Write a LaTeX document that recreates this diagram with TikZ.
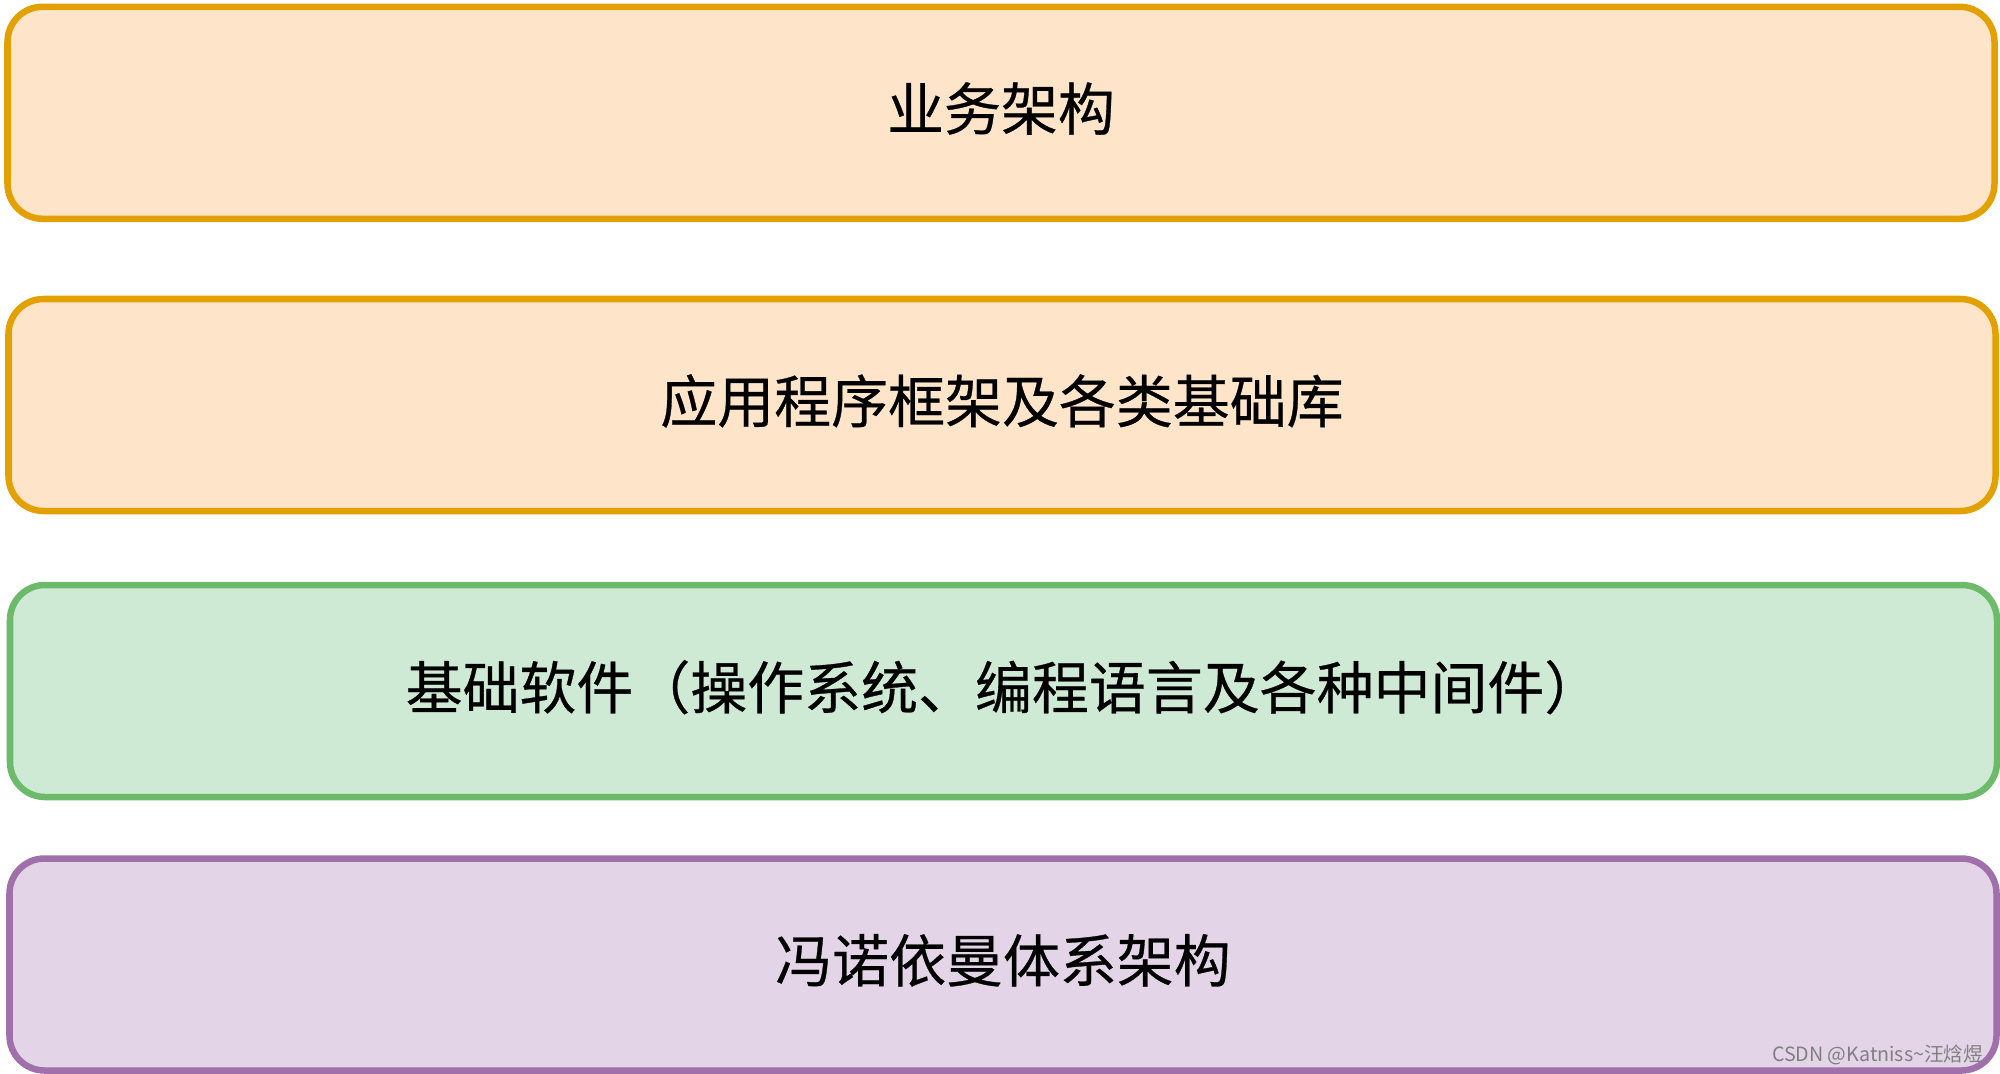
\documentclass[tikz,border=0pt]{standalone}
\usepackage{fontspec}
\newfontfamily\cjk{Noto Sans CJK SC}
\newfontfamily\cjkbold[FakeBold=0.5]{Noto Sans CJK SC}
\definecolor{orangeline}{HTML}{E3A001}
\definecolor{orangefill}{HTML}{FEE5CA}
\definecolor{greenline}{HTML}{6DBA6B}
\definecolor{greenfill}{HTML}{CFEAD4}
\definecolor{purpleline}{HTML}{A070AA}
\definecolor{purplefill}{HTML}{E4D4E8}
\newcommand{\layertext}[1]{\raisebox{0.13cm}{#1}}

\begin{document}
\begin{tikzpicture}[
    layer/.style={rectangle,rounded corners=0.35cm,line width=1.85pt,
      minimum width=19.87cm,minimum height=2.12cm,inner sep=0pt,
      font=\cjkbold\fontsize{16.2pt}{18pt}\selectfont,text=black},
    orangelayer/.style={layer,draw=orangeline,fill=orangefill},
    greenlayer/.style={layer,draw=greenline,fill=greenfill},
    purplelayer/.style={layer,draw=purpleline,fill=purplefill}]
        \useasboundingbox (0,0) rectangle (20,-10.74) ;
        %\draw[very thin,gray,step=1] (0,0) grid (20,-10.74) ;
        \node[orangelayer] (biz) at (10.01,-1.128) {\layertext{业务架构}} ;
        \node[orangelayer] (app) at (10.02,-4.05) {\layertext{应用程序框架及各类基础库}} ;
        \node[greenlayer] (base) at (10.035,-6.91) {\layertext{基础软件（操作系统、编程语言及各种中间件）}} ;
        \node[purplelayer] (vn) at (10.03,-9.645) {\layertext{冯诺依曼体系架构}} ;
        \node[anchor=south east,inner sep=0pt,text=gray,
          font=\cjk\fontsize{5.6pt}{7pt}\selectfont] (mark) at (19.84,-10.66)
          {CSDN @Katniss\textasciitilde 汪焓煜} ;
      \end{tikzpicture}
\end{document}
